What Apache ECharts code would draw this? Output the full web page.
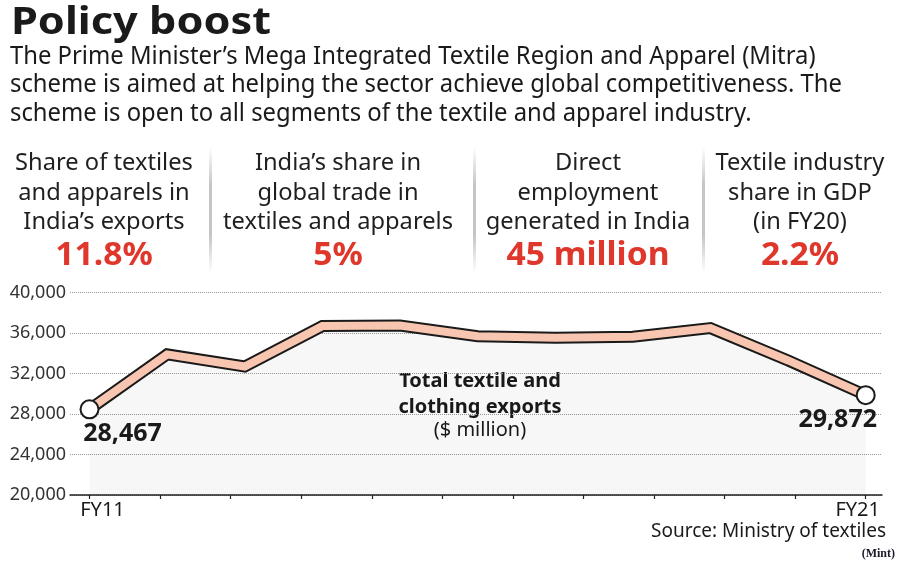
<!DOCTYPE html>
<html><head><meta charset="utf-8">
<script src="https://cdn.jsdelivr.net/npm/echarts@6/dist/echarts.min.js"></script>
<style>html,body{margin:0;padding:0;background:#fff}#c{width:900px;height:564px}</style>
</head><body><div id="c"></div>
<script>
// ---- data ----
const categories = ['FY11','FY12','FY13','FY14','FY15','FY16','FY17','FY18','FY19','FY20','FY21'];
const exportsValues = [28467, 33900, 32700, 36700, 36750, 35700, 35550, 35650, 36500, 33300, 29872];
const tickSlots = ['', '', '', '', '', '', '', '', '', '', '', ''];
const yMin = 20000, yMax = 40000, yStep = 4000;

const title = 'Policy boost';
const introLines = [
  'The Prime Minister’s Mega Integrated Textile Region and Apparel (Mitra)',
  'scheme is aimed at helping the sector achieve global competitiveness. The',
  'scheme is open to all segments of the textile and apparel industry.'
];
const statLabels = [
  ['Share of textiles', 'and apparels in', 'India’s exports'],
  ['India’s share in', 'global trade in', 'textiles and apparels'],
  ['Direct', 'employment', 'generated in India'],
  ['Textile industry', 'share in GDP', '(in FY20)']
];
const statValues = ['11.8%', '5%', '45 million', '2.2%'];
const chartNote = ['Total textile and', 'clothing exports', '($ million)'];
const sourceText = 'Source: Ministry of textiles';
const creditText = '(Mint)';

// ---- helpers ----
const FF = "'Noto Sans', 'Open Sans', sans-serif";
const mctx = document.createElement('canvas').getContext('2d');
function mw(text, font) { mctx.font = font; return mctx.measureText(text).width; }
function T(text, x, y, font, fill, align, sx) {
  return { type: 'text', x: x, y: y, scaleX: sx || 1, silent: true,
    style: { text: text, font: font, fill: fill, align: align || 'left', verticalAlign: 'middle' } };
}
const fmt = v => v.toLocaleString('en-US');

const g = [];
// title
const titleFont = 'bold 38px ' + FF;
g.push(T(title, 11, 23.5, titleFont, '#1a1a1a', 'left', 260 / mw(title, titleFont)));
// intro
const introFont = '25px ' + FF;
const introScale = 832 / mw(introLines[1], introFont);
const introBase = [56.5, 84.5, 113.5];
introLines.forEach((l, i) => g.push(T(l, 10, introBase[i], introFont, '#1a1a1a', 'left', introScale)));
// stats
const statFont = '24px ' + FF;
const statScale = 230 / mw(statLabels[1][2], statFont);
const valFont = 'bold 32px ' + FF;
const valScale = 163 / mw(statValues[2], valFont);
const colX = [104, 338, 588, 800];
const statY = [163.5, 193.5, 222.5];
statLabels.forEach((lines, c) => {
  lines.forEach((l, i) => g.push(T(l, colX[c], statY[i], statFont, '#1f1f1f', 'center', statScale)));
  g.push(T(statValues[c], colX[c], 256, valFont, '#e0372c', 'center', valScale));
});
[209, 473, 702].forEach(x => g.push({
  type: 'rect', silent: true, shape: { x: x, y: 147, width: 3, height: 126 },
  style: { fill: new echarts.graphic.LinearGradient(0, 0, 0, 1, [
    { offset: 0, color: 'rgba(150,150,150,0)' },
    { offset: 0.3, color: 'rgba(150,150,150,0.55)' },
    { offset: 0.7, color: 'rgba(150,150,150,0.55)' },
    { offset: 1, color: 'rgba(150,150,150,0)' }]) }
}));
// chart note
g.push(T(chartNote[0], 480, 381, 'bold 20px ' + FF, '#1a1a1a', 'center'));
g.push(T(chartNote[1], 480, 407, 'bold 20px ' + FF, '#1a1a1a', 'center'));
g.push(T(chartNote[2], 480, 430, '20px ' + FF, '#1a1a1a', 'center'));
// source
g.push(T(sourceText, 886, 531.5, '19px ' + FF, '#1a1a1a', 'right'));
g.push(T(creditText, 895, 553.5, "bold 12px 'Liberation Serif', 'DejaVu Serif', serif", '#1a1a2a', 'right'));

const last = exportsValues.length - 1;
const valueLabel = { fontFamily: FF, fontWeight: 'bold', fontSize: 25, color: '#1a1a1a' };
const topData = exportsValues.map((v, i) => {
  if (i === 0) return { value: v, symbol: 'circle', symbolSize: 18,
    label: Object.assign({ show: true, position: 'inside', offset: [33, 25], formatter: p => fmt(p.value) }, valueLabel) };
  if (i === last) return { value: v, symbol: 'circle', symbolSize: 18,
    label: Object.assign({ show: true, position: 'inside', offset: [-28, 25], formatter: p => fmt(p.value) }, valueLabel) };
  return { value: v, symbol: 'none' };
});

const chart = echarts.init(document.getElementById('c'), null, { renderer: 'canvas' });
chart.setOption({
  animation: false,
  backgroundColor: '#fff',
  grid: [
    { left: 70, right: 18, top: 292.7, bottom: 69 },
    { left: 89.5, right: 34.3, top: 292.7, bottom: 69 }
  ],
  xAxis: [
    { gridIndex: 0, type: 'category', position: 'bottom', data: [''], axisLine: { lineStyle: { color: '#222', width: 1.5 } },
      axisTick: { show: false }, axisLabel: { show: false } },
    { gridIndex: 1, type: 'category', position: 'bottom', data: categories, boundaryGap: false,
      axisLine: { show: false }, axisTick: { show: false },
      axisLabel: { interval: 0, margin: 5, color: '#1a1a1a', fontSize: 20, fontFamily: FF,
        formatter: (v, i) => i === 0 ? '{a|' + v + '}' : (i === last ? '{b|' + v + '}' : ''),
        rich: { a: { fontSize: 20, fontFamily: FF, color: '#1a1a1a', padding: [0, 0, 0, 26] },
                b: { fontSize: 20, fontFamily: FF, color: '#1a1a1a', padding: [0, 16, 0, 0] } } } },
    { gridIndex: 1, type: 'category', position: 'bottom', data: tickSlots, boundaryGap: false,
      axisLine: { show: false }, axisLabel: { show: false },
      axisTick: { show: true, interval: 0, length: 4, lineStyle: { color: '#222', width: 1.2 } } }
  ],
  yAxis: [
    { gridIndex: 0, type: 'value', min: yMin, max: yMax, interval: yStep,
      axisLine: { show: false }, axisTick: { show: false },
      axisLabel: { formatter: v => fmt(v), fontSize: 18, fontFamily: FF, color: '#333', margin: 4 },
      splitLine: { lineStyle: { type: 'dotted', color: '#999', width: 1 } } },
    { gridIndex: 1, type: 'value', min: yMin, max: yMax, interval: yStep, show: false,
      splitLine: { show: false } }
  ],
  series: [
    { type: 'line', xAxisIndex: 1, yAxisIndex: 1, data: exportsValues, symbol: 'none', silent: true, z: 2,
      lineStyle: { color: '#1a1a1a', width: 12, join: 'miter' },
      areaStyle: { color: 'rgba(0,0,0,0.045)', origin: 'start' } },
    { type: 'line', xAxisIndex: 1, yAxisIndex: 1, data: topData, showSymbol: true, silent: true, z: 3,
      lineStyle: { color: '#f8c6b0', width: 8, join: 'miter' },
      itemStyle: { color: '#fff', borderColor: '#1a1a1a', borderWidth: 2 } }
  ],
  graphic: g
});
</script></body></html>
